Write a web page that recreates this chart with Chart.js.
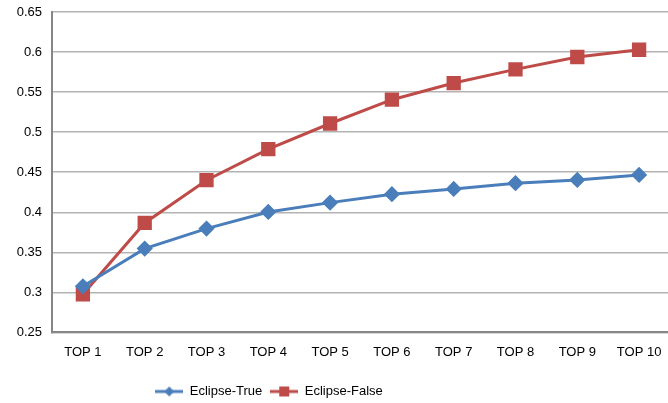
<!DOCTYPE html>
<html><head><meta charset="utf-8">
<script src="https://cdn.jsdelivr.net/npm/chart.js@4"></script>
<style>html,body{margin:0;padding:0;background:#fff}#wrap{width:668px;height:403px}</style>
</head><body><div id="wrap"><canvas id="c" width="668" height="403"></canvas></div>
<script>
const categories = ["TOP 1","TOP 2","TOP 3","TOP 4","TOP 5","TOP 6","TOP 7","TOP 8","TOP 9","TOP 10"];
const eclipseTrue = [0.3075,0.3546,0.3796,0.4004,0.412,0.4225,0.4291,0.4363,0.4404,0.4466];
const eclipseFalse = [0.2975,0.3867,0.44,0.4788,0.5108,0.5405,0.5613,0.5784,0.5938,0.6029];
const seriesNames = ["Eclipse-True","Eclipse-False"];
const yMin = 0.25, yMax = 0.65, yStep = 0.05;

const BLUE = '#4a7ebb', RED = '#be4b48';
function legendIcon(color, shape){
  const cv = document.createElement('canvas');
  cv.width = 28; cv.height = 12;
  const g = cv.getContext('2d');
  g.strokeStyle = color; g.lineWidth = 3;
  g.beginPath(); g.moveTo(0,6); g.lineTo(28,6); g.stroke();
  g.fillStyle = color;
  if(shape==='d'){ g.beginPath(); g.moveTo(14,1); g.lineTo(19,6); g.lineTo(14,11); g.lineTo(9,6); g.closePath(); g.fill(); }
  else { g.fillRect(9,1,10,10); }
  return cv;
}
const PLOT_TOP = 12, PLOT_RIGHT = 670, LEGEND_DX = -65, LEGEND_DY = 5;
const fitArea = {
  id: 'fitArea',
  afterLayout(chart){
    const ca = chart.chartArea, x = chart.scales.x, y = chart.scales.y;
    ca.top = PLOT_TOP; ca.right = PLOT_RIGHT;
    ca.width = ca.right - ca.left; ca.height = ca.bottom - ca.top;
    x.right = PLOT_RIGHT; x.width = x.right - x.left; x.configure();
    y.top = PLOT_TOP; y.height = y.bottom - y.top; y.configure();
    const lg = chart.legend;
    lg.left += LEGEND_DX; lg.right += LEGEND_DX;
    lg.top += LEGEND_DY; lg.bottom += LEGEND_DY;
  }
};
const font = "'Liberation Sans','DejaVu Sans',sans-serif";
new Chart(document.getElementById('c'), {
  type: 'line',
  data: {
    labels: categories,
    datasets: [
      {label: seriesNames[0], data: eclipseTrue, borderColor: BLUE, backgroundColor: BLUE, borderWidth: 3,
       pointStyle: 'rectRot', pointRadius: 6, pointHoverRadius: 6, tension: 0},
      {label: seriesNames[1], data: eclipseFalse, borderColor: RED, backgroundColor: RED, borderWidth: 3,
       pointStyle: 'rect', pointRadius: 8, pointHoverRadius: 8, tension: 0}
    ]
  },
  plugins: [fitArea],
  options: {
    responsive: false, animation: false,
    layout: {padding: {top: 2, right: 0, left: 0, bottom: 0}},
    plugins: {
      tooltip: {enabled: false},
      legend: {
        position: 'bottom',
        labels: {
          usePointStyle: true, pointStyleWidth: 28, boxHeight: 12, padding: 8,
          color: '#000', font: {family: font, size: 13},
          generateLabels(chart){
            return chart.data.datasets.map((ds,i)=>({
              text: ds.label, pointStyle: legendIcon(ds.borderColor, i===0?'d':'s'),
              fillStyle: ds.borderColor, strokeStyle: ds.borderColor, lineWidth: 0,
              hidden: false, datasetIndex: i, fontColor: '#000'
            }));
          }
        }
      }
    },
    scales: {
      x: {
        offset: true,
        grid: {display: false, drawTicks: false},
        border: {color: '#868686', width: 2},
        ticks: {color: '#000', font: {family: font, size: 13}, padding: 12, maxRotation: 0}
      },
      y: {
        min: yMin, max: yMax,
        afterFit(s){ s.width = 52; },
        grid: {color: '#b3b3b3', lineWidth: 1.5, drawTicks: false},
        border: {color: '#868686', width: 2},
        ticks: {stepSize: yStep, color: '#000', font: {family: font, size: 13}, padding: 10,
          callback: v => String(parseFloat(v.toFixed(2)))}
      }
    }
  }
});
</script></body></html>
